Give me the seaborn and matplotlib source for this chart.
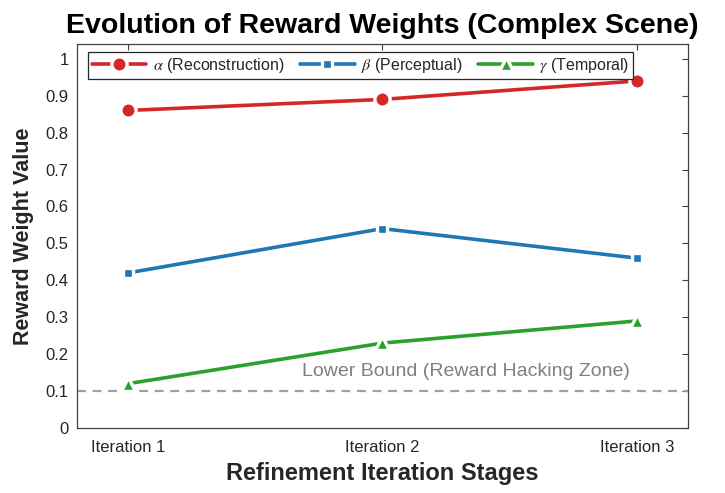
import matplotlib
matplotlib.use("Agg")
import matplotlib.pyplot as plt
import seaborn as sns
import pandas as pd
import numpy as np

iterations = [1, 2, 3]
tick_labels = ["Iteration 1", "Iteration 2", "Iteration 3"]
alpha_vals = [0.86, 0.89, 0.94]
beta_vals = [0.42, 0.54, 0.46]
gamma_vals = [0.12, 0.23, 0.29]
series_names = [r"$\alpha$ (Reconstruction)", r"$\beta$ (Perceptual)", r"$\gamma$ (Temporal)"]
colors = ["#D62728", "#1F77B4", "#2CA02C"]
lower_bound = 0.1

sns.set_style("white")
plt.rcParams['font.family'] = ['Liberation Sans', 'DejaVu Sans']
plt.rcParams['mathtext.fontset'] = 'stix'

df = pd.DataFrame({
    "iter": iterations * 3,
    "value": alpha_vals + beta_vals + gamma_vals,
    "series": sum([[n] * 3 for n in series_names], []),
})

fig = plt.figure(figsize=(7.25, 4.93), dpi=100)
ax = fig.add_axes([77/725, 1 - 428/493, (688-77)/725, (428-44)/493])

markers = {series_names[0]: "o", series_names[1]: "s", series_names[2]: "^"}
sizes = {series_names[0]: 11, series_names[1]: 7.5, series_names[2]: 10}
palette = dict(zip(series_names, colors))

for name in series_names:
    sub = df[df["series"] == name]
    sns.lineplot(data=sub, x="iter", y="value", ax=ax, color=palette[name],
                 marker=markers[name], markersize=sizes[name], linewidth=2.6,
                 markeredgecolor="white", markeredgewidth=2.4, label=name,
                 zorder=3)

ax.axhline(lower_bound, color="#A0A0A0", linestyle=(0, (4, 3)), linewidth=1.6, zorder=1)
ax.text(2.97, lower_bound + 0.03, "Lower Bound (Reward Hacking Zone)", ha="right",
        va="bottom", fontsize=14, color="#808080")

ax.set_xlim(0.8, 3.2)
ax.set_ylim(0, 1.04)
ax.set_xticks(iterations)
ax.set_xticklabels(tick_labels)
yt = np.round(np.arange(0, 1.01, 0.1), 1)
ax.set_yticks(yt)
ax.set_yticklabels([f"{v:g}" for v in yt])
ax.tick_params(axis="both", direction="in", length=4, width=0.8, colors="#404040",
               labelsize=12, labelcolor="#262626", top=True, right=True)
ax.tick_params(axis="x", pad=9)
ax.tick_params(axis="y", pad=6)
for sp in ax.spines.values():
    sp.set_color("#404040")
    sp.set_linewidth(0.9)

ax.set_xlabel("Refinement Iteration Stages", fontsize=17, fontweight="bold", color="#262626", labelpad=5)
ax.set_ylabel("Reward Weight Value", fontsize=15.5, fontweight="bold", color="#262626", labelpad=8)
ax.set_title("Evolution of Reward Weights (Complex Scene)", fontsize=20.5, fontweight="bold",
             color="black", pad=8)

leg = ax.legend(loc="upper left", bbox_to_anchor=(88/725, 1 - 52/493), bbox_transform=fig.transFigure,
                ncol=3, fontsize=11.5, frameon=True, fancybox=False, handlelength=3.4,
                columnspacing=1.0, handletextpad=0.4, borderpad=0.25, borderaxespad=0)
leg.get_frame().set_edgecolor("#262626")
leg.get_frame().set_linewidth(0.9)
leg.get_frame().set_alpha(1)

fig.savefig("out.png", dpi=100)
